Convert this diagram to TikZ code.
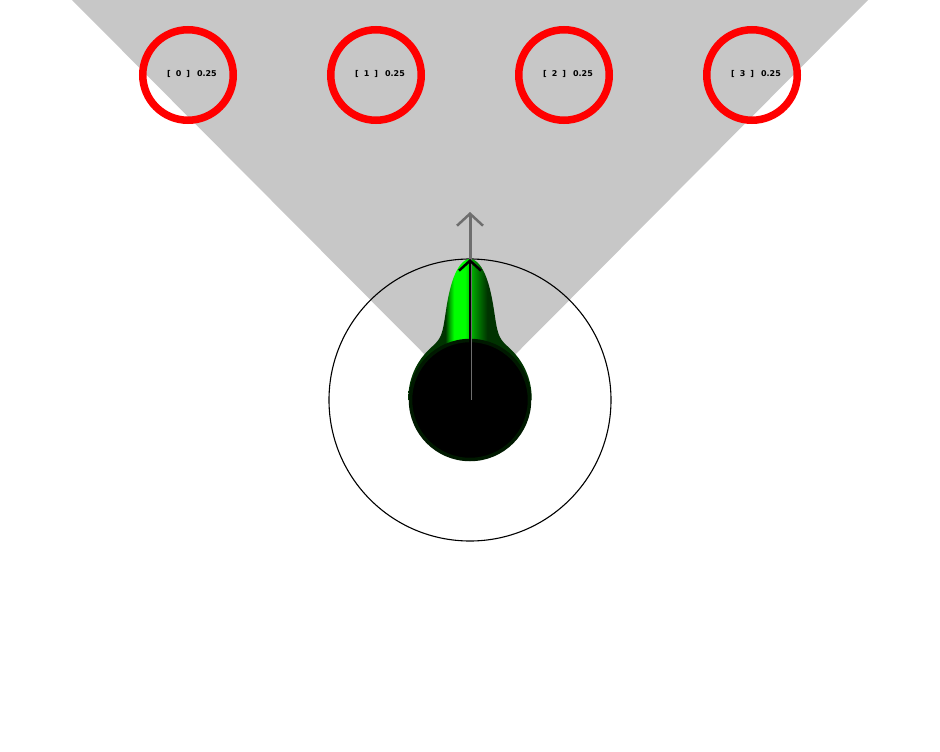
\documentclass[tikz,border=0pt]{standalone}
\usepackage{fontspec}
\setmainfont{DejaVu Sans}
\usetikzlibrary{arrows.meta}
\definecolor{lobedark}{rgb}{0,0.2,0}
\definecolor{lobemid}{rgb}{0,0.6,0}
\definecolor{lobebright}{rgb}{0,1,0}
\pgfdeclarehorizontalshading{lobeshade}{100bp}{
  color(0bp)=(lobedark);
  color(40bp)=(lobedark);
  color(41.5bp)=(lobemid);
  color(43.5bp)=(lobebright);
  color(48bp)=(lobebright);
  color(51.5bp)=(lobemid);
  color(57bp)=(lobedark);
  color(100bp)=(lobedark)
}
\begin{document}
\begin{tikzpicture}[x=1pt,y=-1pt,
  sensor/.style={circle,draw=red,line width=7.5pt,minimum size=90.5pt,inner sep=0pt},
  lab/.style={font=\bfseries\fontsize{8}{9}\selectfont,inner sep=0pt},
]
\useasboundingbox (0,0) rectangle (940,752);
\coordinate (c) at (470,400);
% wedge
\fill[black!22] (c) -- (72,0) -- (868,0) -- cycle;
% large circle
\node[circle,draw=black,line width=1.1pt,minimum size=282pt,inner sep=0pt] (range) at (c) {};
% sensors
\foreach \i/\x in {0/188,1/376,2/564,3/752}{
  \node[sensor] (s\i) at (\x,75) {};
  \node[lab] (l\i) at (\x+4,73.5) {[\hspace{5pt}\i\hspace{5pt}]\hspace{7pt}0.25};
}
% green lobe
\shade[shading=lobeshade]
  plot[domain=-90:90,samples=181,smooth] ({470+(61+74*exp(-(\x/14.7)^2)+6*exp(-(\x/60)^2))*sin(\x)},{400-(61+74*exp(-(\x/14.7)^2)+6*exp(-(\x/60)^2))*cos(\x)}) -- cycle;
% body
\node[circle,fill=black,draw=green!10!black,line width=3.5pt,minimum size=119pt,inner sep=0pt] (body) at (c) {};
% arrows
\coordinate (g) at (470,212);
\coordinate (b) at (470,259);
\draw[black!57,line width=3pt,-{Straight Barb[length=12pt,width=26pt,line width=2.5pt]}] (c) -- (g);
\draw[black,line width=2.8pt,-{Straight Barb[length=10pt,width=22pt,line width=2.5pt]}] (c) -- (b);
\end{tikzpicture}
\end{document}
